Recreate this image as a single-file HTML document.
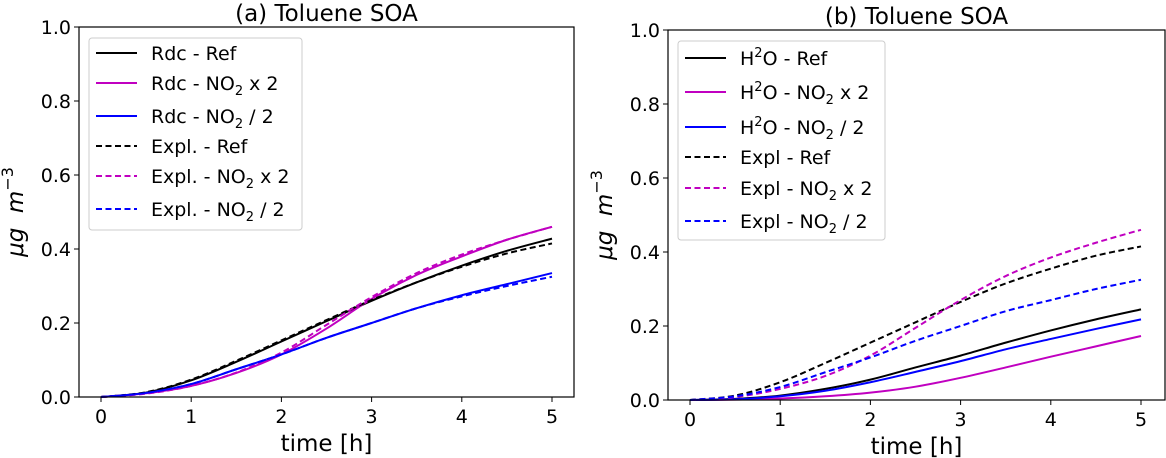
<!DOCTYPE html>
<html><head><meta charset="utf-8"><style>
body{margin:0;background:#fff;}
svg{display:block;font-family:"DejaVu Sans","Liberation Sans",sans-serif;}
</style></head><body>
<svg id="c" width="1166" height="458" viewBox="0 0 1166 458"></svg>
<script>
const times=[0,0.5,1,1.5,2,2.5,3,3.5,4,4.5,5];
const yTicks=[0,0.2,0.4,0.6,0.8,1.0];
const yTickLabels=["0.0","0.2","0.4","0.6","0.8","1.0"];
const xTicks=[0,1,2,3,4,5];
// panel a
const aRdcRef=[0,0.012,0.045,0.095,0.15,0.205,0.26,0.31,0.355,0.395,0.428];
const aRdcX2=[0,0.01,0.03,0.065,0.115,0.185,0.265,0.33,0.38,0.425,0.46];
const aRdcH=[0,0.011,0.035,0.075,0.115,0.16,0.2,0.24,0.275,0.305,0.335];
const aExRef=[0,0.013,0.047,0.098,0.153,0.208,0.262,0.31,0.352,0.388,0.415];
const aExX2=[0,0.009,0.03,0.066,0.12,0.195,0.27,0.335,0.385,0.425,0.46];
const aExH=[0,0.011,0.035,0.075,0.115,0.16,0.2,0.24,0.272,0.3,0.325];
// panel b
const bH2oRef=[0,0.003,0.012,0.03,0.055,0.088,0.12,0.155,0.188,0.218,0.245];
const bH2oX2=[0,0.001,0.004,0.01,0.02,0.036,0.06,0.088,0.117,0.145,0.173];
const bH2oH=[0,0.002,0.01,0.025,0.048,0.076,0.105,0.137,0.165,0.192,0.218];
const bExRef=[0,0.012,0.048,0.1,0.155,0.21,0.265,0.315,0.355,0.39,0.415];
const bExX2=[0,0.008,0.03,0.065,0.12,0.195,0.27,0.335,0.385,0.425,0.46];
const bExH=[0,0.01,0.035,0.075,0.115,0.16,0.2,0.24,0.27,0.3,0.325];

const svg=document.getElementById('c');
const NS='http://www.w3.org/2000/svg';
function mk(tag,attrs,parent){const e=document.createElementNS(NS,tag);for(const k in attrs)e.setAttribute(k,attrs[k]);(parent||svg).appendChild(e);return e;}
function smooth(pts){let d='M'+pts[0][0]+','+pts[0][1];for(let i=0;i<pts.length-1;i++){const p0=pts[Math.max(0,i-1)],p1=pts[i],p2=pts[i+1],p3=pts[Math.min(pts.length-1,i+2)];const c1=[p1[0]+(p2[0]-p0[0])/6,p1[1]+(p2[1]-p0[1])/6],c2=[p2[0]-(p3[0]-p1[0])/6,p2[1]-(p3[1]-p1[1])/6];d+=' C'+c1[0]+','+c1[1]+' '+c2[0]+','+c2[1]+' '+p2[0]+','+p2[1];}return d;}

function panel(P){
  const g=mk('g',{});
  
  
  const xs=t=>P.x0+(P.x5-P.x0)*t/5;
  const ys=v=>P.bot-(P.bot-P.top)*v;
  P.series.forEach(s=>{
    const p=mk('path',{d:smooth(times.map((t,i)=>[xs(t),ys(s.data[i])])),fill:'none',stroke:s.color,'stroke-width':2,'stroke-dasharray':s.dash?'6,3.5':'none'},g);
    
    
  });
  const fr=mk('rect',{x:P.left,y:P.top,width:P.right-P.left,height:P.bot-P.top,fill:'none',stroke:'#000','stroke-width':1.2},g);
  
  
  yTicks.forEach((v,i)=>{
    mk('line',{x1:P.left-5,x2:P.left,y1:ys(v),y2:ys(v),stroke:'#000','stroke-width':1},g);
    const t=mk('text',{x:P.left-8,y:ys(v)+7,'text-anchor':'end','font-size':19},g);t.textContent=yTickLabels[i];
    
    
  });
  xTicks.forEach(v=>{
    mk('line',{x1:xs(v),x2:xs(v),y1:P.bot,y2:P.bot+5,stroke:'#000','stroke-width':1},g);
    const t=mk('text',{x:xs(v),y:P.bot+26,'text-anchor':'middle','font-size':19},g);t.textContent=v;
    
    
  });
  const xt=mk('text',{x:(P.left+P.right)/2,y:P.bot+54,'text-anchor':'middle','font-size':23},g);xt.textContent='time [h]';
  
  
  const yt=mk('text',{x:0,y:0,'text-anchor':'middle','font-size':23,'font-style':'italic',transform:'translate('+(P.left-56)+','+((P.top+P.bot)/2)+') rotate(-90)'},g);
  yt.innerHTML='μg&#160;&#160;m<tspan dy="-10" font-size="16" font-style="normal">−3</tspan>';
  
  
  const tt=mk('text',{x:(P.left+P.right)/2,y:P.top-6,'text-anchor':'middle','font-size':23},g);tt.textContent=P.title;
  
  
  const L=P.leg;
  const lb=mk('rect',{x:L.x,y:L.y,width:L.w,height:L.h,rx:3,fill:'#fff','fill-opacity':0.85,stroke:'#ccc','stroke-width':1},g);
  
  
  P.series.forEach((s,i)=>{
    const yy=L.rows[i];
    mk('line',{x1:L.x+7,x2:L.x+48,y1:yy,y2:yy,stroke:s.color,'stroke-width':2,'stroke-dasharray':s.dash?'6,3.5':'none'},g);
    const t=mk('text',{x:L.x+62,y:yy+7,'font-size':19},g);t.innerHTML=s.label;
    
    
  });
}
const sub='NO<tspan dy="5" font-size="13">2</tspan><tspan dy="-5"> </tspan>';
const h2o='H<tspan dy="-8" font-size="13">2</tspan><tspan dy="8">O</tspan>';
panel({id:'panel-a',title:'(a) Toluene SOA',left:79,right:574,top:27,bot:397,x0:101,x5:552,
 leg:{x:89,y:38,w:213,h:192,rows:[53,83,116,146,176,209]},
 series:[
  {name:'rdc-ref-line',label:'Rdc - Ref',data:aRdcRef,color:'#000',dash:false},
  {name:'rdc-no2x2-line',label:'Rdc - '+sub+'x 2',data:aRdcX2,color:'#c000c0',dash:false},
  {name:'rdc-no2half-line',label:'Rdc - '+sub+'/ 2',data:aRdcH,color:'#0000ff',dash:false},
  {name:'expl-ref-line',label:'Expl. - Ref',data:aExRef,color:'#000',dash:true},
  {name:'expl-no2x2-line',label:'Expl. - '+sub+'x 2',data:aExX2,color:'#c000c0',dash:true},
  {name:'expl-no2half-line',label:'Expl. - '+sub+'/ 2',data:aExH,color:'#0000ff',dash:true}]});
panel({id:'panel-b',title:'(b) Toluene SOA',left:668,right:1165,top:30,bot:400,x0:690,x5:1141,
 leg:{x:678,y:41,w:207,h:199,rows:[58,92,127,157,188,221]},
 series:[
  {name:'h2o-ref-line',label:h2o+' - Ref',data:bH2oRef,color:'#000',dash:false},
  {name:'h2o-no2x2-line',label:h2o+' - '+sub+'x 2',data:bH2oX2,color:'#c000c0',dash:false},
  {name:'h2o-no2half-line',label:h2o+' - '+sub+'/ 2',data:bH2oH,color:'#0000ff',dash:false},
  {name:'expl-ref-line',label:'Expl - Ref',data:bExRef,color:'#000',dash:true},
  {name:'expl-no2x2-line',label:'Expl - '+sub+'x 2',data:bExX2,color:'#c000c0',dash:true},
  {name:'expl-no2half-line',label:'Expl - '+sub+'/ 2',data:bExH,color:'#0000ff',dash:true}]});
</script>
</body></html>
